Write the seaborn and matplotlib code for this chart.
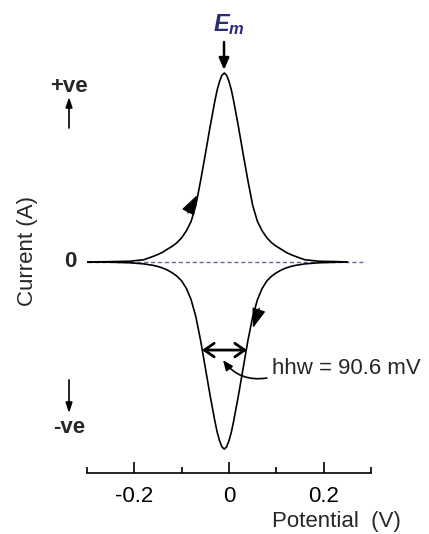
import matplotlib
matplotlib.use("Agg")
import matplotlib.pyplot as plt
import seaborn as sns
import pandas as pd

# ---- data ----
potential = [-0.30, -0.25, -0.21, -0.18, -0.16, -0.15, -0.14, -0.13, -0.12, -0.11,
             -0.10, -0.09, -0.08, -0.07, -0.06, -0.05, -0.04, -0.03, -0.025, -0.02,
             -0.015, -0.01, -0.005, 0.00, 0.005, 0.01, 0.02, 0.03, 0.04, 0.05,
             0.06, 0.07, 0.08, 0.09, 0.10, 0.11, 0.12, 0.13, 0.14, 0.16,
             0.19, 0.23, 0.25]
current_forward = [0.000, 0.002, 0.004, 0.012, 0.030, 0.040, 0.052, 0.068, 0.083, 0.102,
                   0.128, 0.165, 0.215, 0.300, 0.430, 0.570, 0.715, 0.850, 0.910, 0.955,
                   0.988, 1.000, 0.988, 0.955, 0.910, 0.850, 0.715, 0.570, 0.430, 0.300,
                   0.215, 0.165, 0.128, 0.102, 0.083, 0.068, 0.052, 0.040, 0.030, 0.012,
                   0.004, 0.002, 0.000]
current_reverse = [0.000, -0.001, -0.004, -0.010, -0.018, -0.024, -0.032, -0.043, -0.057, -0.075,
                   -0.100, -0.140, -0.200, -0.290, -0.415, -0.560, -0.705, -0.840, -0.900, -0.945,
                   -0.978, -0.990, -0.978, -0.945, -0.900, -0.840, -0.705, -0.560, -0.415, -0.290,
                   -0.200, -0.140, -0.100, -0.075, -0.057, -0.043, -0.032, -0.024, -0.018, -0.010,
                   -0.004, -0.001, 0.000]
baseline_x = [-0.297, 0.29]
baseline_y = [0.0, 0.0]
major_ticks = [-0.2, 0.0, 0.2]
major_labels = ["-0.2", "0", "0.2"]
minor_ticks = [-0.3, -0.1, 0.1, 0.3]
E_m = -0.0105
hhw_left, hhw_right = -0.057, 0.038
hhw_text = "hhw = 90.6 mV"

sns.set_style("white")
plt.rcParams["font.family"] = ["Liberation Sans", "DejaVu Sans"]
plt.rcParams["axes.unicode_minus"] = False
plt.rcParams["mathtext.fontset"] = "custom"
plt.rcParams["mathtext.it"] = "Liberation Sans:italic:bold"
plt.rcParams["mathtext.rm"] = "Liberation Sans:bold"

W, H = 429, 534
fig = plt.figure(figsize=(W / 100, H / 100), dpi=100)
ax = fig.add_axes([87 / W, 61 / H, 284 / W, 463 / H])

df_f = pd.DataFrame({"Potential": potential, "Current": current_forward})
df_r = pd.DataFrame({"Potential": potential, "Current": current_reverse})

ax.plot(baseline_x, baseline_y, color="#6868a8", lw=1.0, ls=(0, (3, 2)), zorder=1)
sns.lineplot(data=df_f, x="Potential", y="Current", ax=ax, color="black", lw=1.2,
             sort=False, estimator=None, zorder=2)
sns.lineplot(data=df_r, x="Potential", y="Current", ax=ax, color="black", lw=1.2,
             sort=False, estimator=None, zorder=2)

ax.set_xlim(-0.3, 0.3)
ax.set_ylim(-1.1164, 1.3333)
for s in ["left", "top", "right"]:
    ax.spines[s].set_visible(False)
ax.spines["bottom"].set_color("black")
ax.spines["bottom"].set_linewidth(1.2)
ax.set_yticks([])
ax.set_xticks(major_ticks)
ax.set_xticklabels(major_labels)
ax.set_xticks(minor_ticks, minor=True)
ax.tick_params(axis="x", which="major", direction="in", length=8, width=1.2,
               labelsize=16, pad=9, colors="black", bottom=True)
ax.tick_params(axis="x", which="minor", direction="in", length=4, width=1.2,
               colors="black", bottom=True)
ax.set_xlabel("")
ax.set_ylabel("")

# scan direction arrows on the curves
ax.annotate("", xy=(-0.0674, 0.354), xytext=(-0.0870, 0.260),
            arrowprops=dict(arrowstyle="-|>,head_length=1.0,head_width=0.35",
                            mutation_scale=12, color="black", lw=1.0,
                            shrinkA=0, shrinkB=0))
ax.annotate("", xy=(0.0505, -0.349), xytext=(0.064, -0.245),
            arrowprops=dict(arrowstyle="-|>,head_length=1.0,head_width=0.35",
                            mutation_scale=12, color="black", lw=1.0,
                            shrinkA=0, shrinkB=0))

# E_m label and arrow
ax.text(0.0, 1.254, r"$E_m$", color="#2c2a7c", fontsize=17, ha="center",
        va="center", clip_on=False)
ax.annotate("", xy=(E_m, 1.016), xytext=(E_m, 1.164), annotation_clip=False,
            arrowprops=dict(arrowstyle="-|>,head_length=0.7,head_width=0.3",
                            mutation_scale=10, color="black", lw=1.8,
                            shrinkA=0, shrinkB=0))

# left-side labels
xl = -0.338
ax.text(xl, 0.931, "+ve", fontsize=16, fontweight="bold", ha="center", va="center",
        clip_on=False)
ax.annotate("", xy=(xl, 0.873), xytext=(xl, 0.709), annotation_clip=False,
            arrowprops=dict(arrowstyle="-|>,head_length=0.6,head_width=0.2",
                            mutation_scale=10, color="black", lw=1.2,
                            shrinkA=0, shrinkB=0))
ax.text(xl + 0.002, 0.0, "0", fontsize=16, fontweight="bold", ha="center",
        va="center", clip_on=False)
ax.annotate("", xy=(xl, -0.799), xytext=(xl, -0.624), annotation_clip=False,
            arrowprops=dict(arrowstyle="-|>,head_length=0.6,head_width=0.2",
                            mutation_scale=10, color="black", lw=1.2,
                            shrinkA=0, shrinkB=0))
ax.text(xl, -0.878, "-ve", fontsize=16, fontweight="bold", ha="center",
        va="center", clip_on=False)

# half-height width annotation
ax.annotate("", xy=(hhw_left, -0.466), xytext=(hhw_right, -0.466),
            arrowprops=dict(arrowstyle="<->,head_length=0.5,head_width=0.35",
                            mutation_scale=14, color="black", lw=2.0,
                            shrinkA=0, shrinkB=0))
ax.annotate("", xy=(-0.0126, -0.519), xytext=(0.080, -0.614),
            arrowprops=dict(arrowstyle="-|>,head_length=0.6,head_width=0.25",
                            mutation_scale=10, color="black", lw=1.2,
                            shrinkA=0, shrinkB=0,
                            connectionstyle="arc3,rad=-0.3"))
ax.text(0.0905, -0.561, hhw_text, fontsize=16, ha="left", va="center",
        clip_on=False)

fig.text(27 / W, 1 - 251 / H, "Current (A)", rotation=90, fontsize=16,
         ha="center", va="center")
fig.text(336 / W, 1 - 522 / H, "Potential  (V)", fontsize=16,
         ha="center", va="center")

fig.savefig("out.png", dpi=100)
